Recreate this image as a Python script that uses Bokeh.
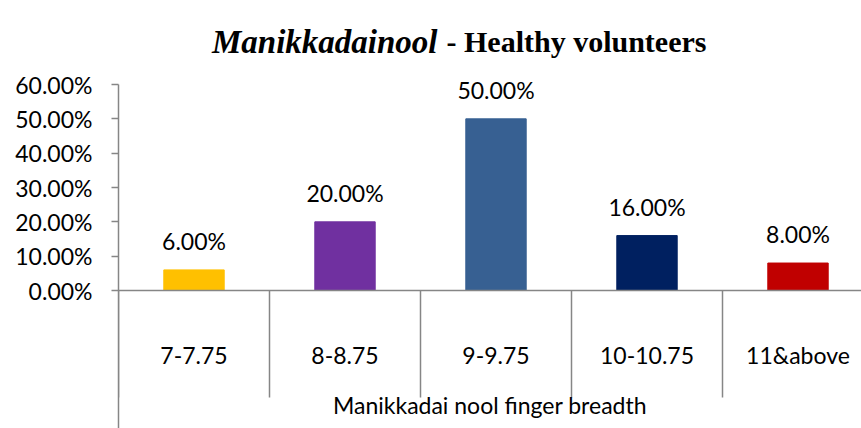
from bokeh.plotting import figure
from bokeh.models import (Range1d, LinearAxis, FixedTicker, PrintfTickFormatter,
                          Label, LabelSet, ColumnDataSource)
from bokeh.core.properties import value
from bokeh.embed import file_html
from bokeh.resources import INLINE

# ---- data ----
categories = ["7-7.75", "8-8.75", "9-9.75", "10-10.75", "11&above"]
percentages = [6.0, 20.0, 50.0, 16.0, 8.0]
bar_colors = ["#FFC000", "#7030A0", "#376092", "#002060", "#C00000"]
y_ticks = [0, 10, 20, 30, 40, 50, 60]
title_italic = "Manikkadainool"
title_rest = "- Healthy volunteers"
x_title = "Manikkadai nool finger breadth"

# ---- geometry ----
W, H = 861, 428
LEFT = 118
Y0_PX = 290          # pixel row of 0 %
TOP60_PX = 84        # pixel row of 60 %
frame_w = W - LEFT
cat_px = 151.0
px_per_pct = (Y0_PX - TOP60_PX) / 60.0
y_lo = -(H - Y0_PX) / px_per_pct
y_hi = Y0_PX / px_per_pct

centers = [i + 0.5 for i in range(len(categories))]
boundaries = list(range(len(categories) + 1))
labels = ["%.2f%%" % v for v in percentages]

p = figure(width=W, height=H, output_backend="svg", toolbar_location=None,
           x_range=Range1d(0, frame_w / cat_px),
           y_range=Range1d(y_lo, y_hi),
           x_axis_type=None, y_axis_type=None,
           min_border_left=LEFT, min_border_right=0,
           min_border_top=0, min_border_bottom=0)
p.outline_line_color = None
p.background_fill_color = "white"
p.border_fill_color = "white"

AX = "#868686"
FONT = "Lato"
SEP = 107

yaxis = LinearAxis(ticker=FixedTicker(ticks=y_ticks),
                   formatter=PrintfTickFormatter(format="%.2f%%"),
                   bounds=(y_lo, max(y_ticks)),
                   axis_line_color=AX, axis_line_width=1.5,
                   major_tick_out=7, major_tick_in=0, major_tick_line_color=AX,
                   major_tick_line_width=1.5,
                   minor_tick_out=0, minor_tick_in=0,
                   major_label_text_font=FONT, major_label_text_font_size="23px",
                   major_label_text_color="#000000", major_label_standoff=19)
p.add_layout(yaxis, "left")

xaxis = LinearAxis(fixed_location=0,
                   ticker=FixedTicker(ticks=centers, minor_ticks=boundaries),
                   major_label_overrides={c: t for c, t in zip(centers, categories)},
                   axis_line_color=AX, axis_line_width=1.5,
                   major_tick_out=0, major_tick_in=0,
                   minor_tick_out=SEP, minor_tick_in=0, minor_tick_line_color=AX,
                   minor_tick_line_width=1.5,
                   major_label_text_font=FONT, major_label_text_font_size="23px",
                   major_label_text_color="#000000", major_label_standoff=50 - SEP,
                   axis_label=x_title, axis_label_text_font=FONT,
                   axis_label_text_font_size="23px", axis_label_text_font_style="normal",
                   axis_label_text_color="#000000", axis_label_standoff=19)
p.add_layout(xaxis, "below")

src = ColumnDataSource(dict(x=centers, top=percentages, color=bar_colors, label=labels))
p.vbar(x="x", top="top", bottom=0, width=0.4, color="color", source=src)

p.add_layout(LabelSet(x="x", y="top", text="label", source=src,
                      text_align="center", text_baseline="middle", y_offset=29,
                      text_font=value(FONT), text_font_size="23px",
                      text_color="#000000"))

# title: two styled parts, positioned in data units above the 60 % line
italic_end_x = (437 - LEFT) / cat_px
rest_start_x = (446 - LEFT) / cat_px
title_y = (Y0_PX - 41) / px_per_pct
p.add_layout(Label(x=italic_end_x, y=title_y,
                   text=title_italic, text_align="right", text_baseline="alphabetic",
                   text_font="Liberation Serif", text_font_style="bold italic",
                   text_font_size="33px", text_color="#000000"))
p.add_layout(Label(x=rest_start_x, y=title_y,
                   text=title_rest, text_align="left", text_baseline="alphabetic",
                   text_font="Liberation Serif", text_font_style="bold",
                   text_font_size="30px", text_color="#000000"))

open("out.html", "w").write(file_html(p, INLINE))
